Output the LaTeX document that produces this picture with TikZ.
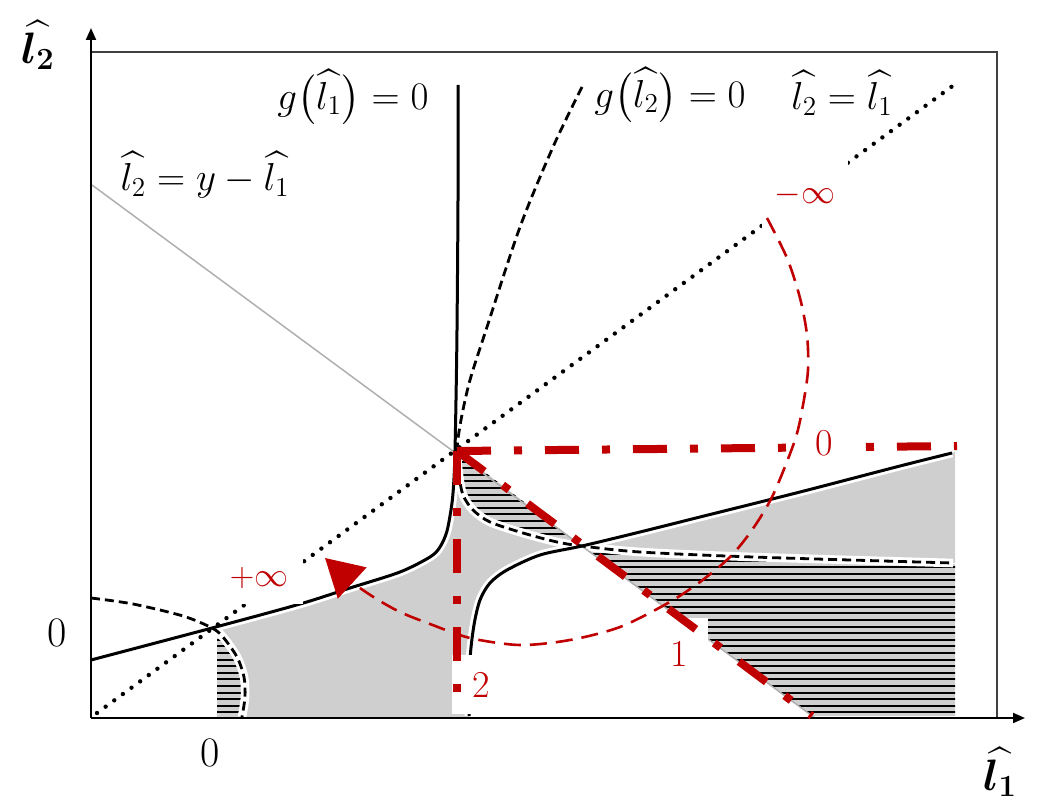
\RequirePackage{fix-cm}
\documentclass[tikz,border=0pt]{standalone}
\usepackage{amsmath}
\usepackage{bm}
\usetikzlibrary{arrows.meta}
\definecolor{myred}{RGB}{192,0,0}
\definecolor{fillgray}{RGB}{208,207,207}
\definecolor{frm}{RGB}{64,64,64}
\definecolor{thingray}{RGB}{175,175,175}
\begin{document}
\begin{tikzpicture}[x=0.5pt,y=-0.5pt,
  solidc/.style={line width=1.5pt,draw=black},
  dashc/.style={line width=1.4pt,draw=black,dash pattern=on 4.5pt off 2.5pt},
  halo/.style={line width=4.3pt,draw=white},
  dotc/.style={line width=2.2pt,draw=black,line cap=round,dash pattern=on 0pt off 5.35pt},
  reddd/.style={draw=myred,line width=4pt,dash pattern=on 17pt off 11.5pt on 4pt off 11.5pt},
  redarc/.style={draw=myred,line width=1.3pt,dash pattern=on 8.5pt off 4.5pt},
  axis/.style={line width=1pt,draw=black,-{Triangle[length=6pt,width=5pt]}},
  lbl/.style={font=\fontsize{19.5}{23}\selectfont,inner sep=0pt},
  numlbl/.style={font=\fontsize{21}{25}\selectfont,inner sep=0pt},
  axlbl/.style={font=\fontsize{22}{26}\selectfont,inner sep=0pt},
  redbox/.style={fill=white,text=myred,inner sep=0pt,font=\fontsize{19}{23}\selectfont},
  infbox/.style={fill=white,text=myred,inner sep=0pt,font=\fontsize{17}{20}\selectfont}
]
\useasboundingbox (0,0) rectangle (1045,808);

% key points
\coordinate (O) at (91,718);
\coordinate (Ytop) at (91,28);
\coordinate (Xend) at (1025,718);
\coordinate (FrTL) at (91,52);
\coordinate (FrTR) at (997,52);
\coordinate (FrBR) at (997,718);
\coordinate (P) at (457,451);
\coordinate (Q) at (213,628);
\coordinate (Hend) at (957,446);
\coordinate (Vend) at (457,699);
\coordinate (Dend) at (812,716);
\coordinate (dotA) at (97,713);
\coordinate (dotB) at (958,82);
\coordinate (antA) at (92,185);
\coordinate (antB) at (815,718);

% gray regions
\fill[fillgray]
  plot[smooth] coordinates {(213,629) (300,604) (350,588) (400,572) (430,557) (440,548) (447,531) (452,503) (455,482)}
  -- plot[smooth] coordinates {(459,485) (463,495) (473,510) (490,522) (523,533) (557,542) (582,546)}
  -- plot[smooth] coordinates {(540,555) (507,570) (490,583) (480,600) (474,625) (470,660) (469,717)}
  -- (242,717)
  -- plot[smooth] coordinates {(245,697) (244,677) (237,657) (223,637) (213,629)} -- cycle
  plot[smooth] coordinates {(582,546) (640,532) (700,517) (800,492) (900,466) (955,452)}
  -- (955,563)
  -- plot[smooth] coordinates {(753,557) (640,552) (582,546)} -- cycle;

% hatched regions
\begin{scope}
  \clip (P) -- (459,487) -- plot[smooth] coordinates {(463,495) (473,510) (490,522) (523,533) (557,542) (582,546)} -- cycle
        (582,546) -- plot[smooth] coordinates {(640,552) (753,557) (955,564)} -- (955,716) -- (812,716) -- cycle
        (217,631) -- (217,717) -- (242,717) -- plot[smooth] coordinates {(245,697) (244,677) (237,657) (223,637) (214,629)} -- cycle;
  \fill[fillgray] (0,0) rectangle (1045,808);
  \foreach \yy in {455,461.6,...,720} {\draw[line width=1pt] (150,\yy) -- (1000,\yy);}
\end{scope}

% curves (saved)
\path[save path=\pSa] plot[smooth] coordinates {(458,85) (458,200) (457,330) (456,400) (455,450) (454,478) (452,503) (447,531) (440,547) (430,557) (400,572) (350,588) (300,604) (212,628) (91,660)};
\path[save path=\pSb] plot[smooth] coordinates {(469,716) (470,660) (474,625) (480,600) (490,583) (507,570) (540,555) (582,546) (640,532) (700,517) (800,492) (900,466) (952,453)};
\path[save path=\pDa] plot[smooth] coordinates {(582,87) (553,147) (520,227) (487,327) (470,380) (461,420) (457,450) (459,475) (463,495) (473,510) (490,522) (523,533) (557,542) (582,546) (640,552) (753,557) (953,563)};
\path[save path=\pDb] plot[smooth] coordinates {(91,598) (133,604) (183,616) (212,628) (223,637) (237,657) (244,677) (245,697) (242,717)};

\draw[halo, use path=\pSa];
\draw[halo, use path=\pSb];
\draw[halo, use path=\pDa];
\draw[halo, use path=\pDb];

% straight reference lines
\draw[thingray, line width=0.75pt] (antA) -- (antB);
\draw[dotc] (dotA) -- (dotB);

\draw[solidc, use path=\pSa];
\draw[solidc, use path=\pSb];
\draw[dashc, use path=\pDa];
\draw[dashc, use path=\pDb];

% frame and axes
\draw[frm, line width=0.85pt] (FrTL) -- (FrTR) -- (FrBR);
\draw[axis] (O) -- (Ytop);
\draw[axis] (O) -- (Xend);

% black labels
\node[lbl] (g1) at (353,97) {$g\bigl(\widehat{l_1}\bigr)=0$};
\node[lbl] (g2) at (670,95) {$g\bigl(\widehat{l_2}\bigr)=0$};
\node[lbl] (diag) at (842,93) {$\widehat{l_2}=\widehat{l_1}$};
\node[lbl] (anti) at (205,175) {$\widehat{l_2}=y-\widehat{l_1}$};
\node[numlbl] (x0) at (210,753) {0};
\node[numlbl] (y0) at (57,633) {0};
\node[axlbl] (ly) at (38,45) {$\bm{\widehat{l_2}}$};
\node[axlbl] (lx) at (1000,772) {$\bm{\widehat{l_1}}$};

% label boxes under the red lines
\node[redbox, minimum width=29pt, minimum height=29.5pt] (two) at (481,684.5) {2};
\node[redbox, minimum width=29pt, minimum height=36pt] (one) at (679,654) {1};
\node[infbox, minimum width=44pt, minimum height=26pt] (pinf) at (259,578) {$+\infty$};
\node[infbox, minimum width=43pt, minimum height=35pt] (minf) at (805,195) {$-\infty$};

% red dash-dot lines
\draw[reddd] (P) -- (Hend);
\draw[reddd] (P) -- (Vend);
\draw[reddd] (P) -- (Dend);

\node[redbox, minimum width=37.5pt, minimum height=15pt] (zero) at (824.5,443) {0};

% red arc with arrow
\draw[redarc, -{Triangle[length=18.5pt,width=21pt]}] plot[smooth] coordinates {(767,218) (787,258) (800,298) (807,335) (808,370) (803,405) (795,440) (773,495) (752,530) (730,557) (700,582) (668,603) (620,627) (570,640) (520,645) (470,638) (430,624) (400,612) (375,598) (352,582) (325,558)};
\end{tikzpicture}
\end{document}
